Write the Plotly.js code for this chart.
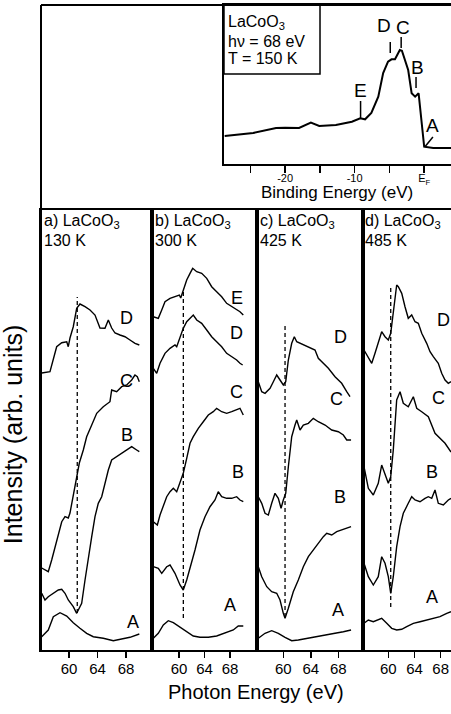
<!DOCTYPE html>
<html><head><meta charset="utf-8">
<script src="https://cdn.plot.ly/plotly-3.0.1.min.js"></script>
<style>html,body{margin:0;padding:0;background:#fff}#chart{width:451px;height:714px}</style>
</head><body><div id="chart"></div>
<script>
// ---------- Inset: valence band spectrum ----------
const insetBE = [-28.7,-24.6,-21.3,-20,-18,-16.3,-15.1,-12.7,-10.4,-9.2,-8.5,-7.6,-6.6,-5.9,-5.2,-4.7,-4.2,-3.5,-3.2,-2.3,-1.8,-1.3,-0.8,-0.35,0,1.3,3.9];
const insetI  = [28,31,36,36.3,36,41.3,38,39,42.3,45.7,44.7,51,67.3,91,102.3,104.7,104.7,114,113.3,94,70.7,67.3,70.7,37.3,17.3,16,16];
const insetTickVals = [-20,-10,0];
const insetTickText = ['-20','-10','E<sub>F</sub>'];
const insetMinorVals = [-25,-15,-5];

// ---------- Panel a) 130 K ----------
const aD_E = [56.17,57.33,58.27,58.98,59.68,59.90,60.14,60.60,61.08,61.54,62.25,62.95,63.65,64.35,65.05,65.52,65.99,66.46,67.16,67.86,68.56,69.27,69.87];
const aD_I = [277,278.3,303.3,307.3,308.3,303.3,312,323.3,341.7,346,343.3,340,335,322,321.7,330,322,317,315,313.3,310,306.7,305];
const aC_E = [56.17,57.09,57.57,58.03,58.50,58.98,59.44,59.90,60.14,60.60,60.98,61.45,62.01,62.48,63.19,63.89,64.81,65.75,65.99,66.69,67.40,68.10,68.80,69.26,69.59,69.87];
const aC_I = [82,78.3,90,103.3,117,128.3,133.3,132,137,153.3,167,187,200,213.3,225,236.7,243.3,248.3,260,258.3,263.3,265,270,275,273.3,268.3];
const aB_E = [56.17,56.63,57.09,57.80,58.50,58.98,59.44,59.90,60.60,61.08,61.45,61.78,62.25,62.71,63.19,63.65,64.11,64.59,65.05,65.52,65.99,66.69,67.40,68.10,68.80,69.50,69.87];
const aB_I = [56.7,50,53.3,56.7,60,60.7,56.7,50,43.3,36.7,41.7,46.7,70,93.3,113.3,133.3,146.7,153.3,166.7,180,190,193.3,196.7,200,203.3,200,198.3];
const aA_E = [56.17,57.09,57.80,58.74,59.68,60.60,61.54,62.48,63.41,64.81,66.22,67.40,68.56,69.87];
const aA_I = [13.3,20,33.3,37.3,34,27.3,21.7,16.7,13.3,11.7,9.3,10.7,12.7,16];

// ---------- Panel b) 300 K ----------
const bE_E = [55.97,56.75,57.29,57.80,58.59,59.37,60.05,60.27,60.67,61.21,61.73,62.15,62.78,63.56,64.35,65.13,65.91,66.70,67.48,68.27,69.05,69.57,70.09];
const bE_I = [333.3,331.7,340,348.3,351.7,353.3,355,352,360.7,370,376.7,381.7,378.3,376.7,371.7,363.3,358.3,353.3,346.7,343.3,340,338.3,335];
const bD_E = [55.97,56.50,57.02,57.80,58.59,59.37,59.64,60.16,60.67,61.21,61.73,62.24,62.78,63.56,64.35,65.13,65.91,66.70,67.48,68.27,69.05,69.57,69.99];
const bD_I = [281.7,276.7,286.7,296.7,301.7,305,303.3,313.3,321.7,328.3,331.7,335,330,326.7,320,313.3,308.3,303.3,296.7,293.3,290,286.7,285];
const bC_E = [55.97,56.60,57.02,57.54,58.07,58.59,59.11,59.64,60.16,60.67,61.21,61.73,62.24,63.03,63.81,64.60,65.38,65.91,66.70,67.48,68.27,69.05,69.57,70.09];
const bC_I = [128.3,125,135,143.3,153.3,158.3,161.7,158.3,166.7,176.7,191.7,206.7,213.3,221.7,228.3,235,238.3,241.7,238.3,236.7,238.3,240,241.7,235];
const bB_E = [55.97,56.75,57.29,58.07,58.59,59.37,60.16,60.67,61.21,61.73,62.51,63.29,64.08,64.86,65.65,66.16,66.70,67.48,68.27,69.05,69.57,70.09];
const bB_I = [83.3,81.7,76.7,83.3,85,76.7,65,60,70,81.7,100,120,133.3,143.3,150,158.3,153.3,151.7,151.7,153.3,150,148.3];
const bA_E = [55.97,56.75,57.54,58.32,59.11,59.89,60.67,61.46,62.24,63.29,64.60,65.91,67.22,68.52,69.30,70.09];
const bA_I = [11.7,16.7,25,29.3,27.3,24,20,17.3,14,12.7,12.7,14,16.7,20,24,24];

// ---------- Panel c) 425 K ----------
const cD_E = [56.36,56.86,57.34,58.07,58.55,59.04,59.52,60.00,60.35,60.73,61.22,61.60,61.95,62.68,63.64,64.61,65.09,65.82,66.55,67.52,68.49,69.22,69.70];
const cD_I = [268.3,258.3,256.7,261.7,268.3,275,270,265,268.3,290,306.7,313.3,308.3,306,303.3,300,291.7,286.7,281.7,273.3,266.7,258.3,253.3];
const cC_E = [56.36,56.86,57.34,57.82,58.31,58.79,59.27,59.67,60.00,60.35,60.73,61.22,61.70,61.95,62.43,62.91,63.64,64.36,65.09,66.07,67.04,68.00,68.73,69.22,69.85];
const cC_I = [153.3,146.7,136.7,135,146.7,156.7,151.7,141.7,150,156.7,183.3,213.3,225,230,220,225,226.7,231.7,228.3,225,220,218.3,215,210,210];
const cB_E = [56.36,56.86,57.59,58.31,59.04,59.52,60.00,60.25,60.73,61.45,62.18,62.91,63.64,64.36,65.09,65.82,66.31,67.04,67.77,68.49,69.22,69.85];
const cB_I = [83.3,73.3,63.3,58.3,56.7,50,36.7,31.7,41.7,58.3,70,83.3,93.3,100,106.7,113.3,116.7,115,118.3,120,121.7,123.3];
const cA_E = [56.36,57.34,58.31,59.27,60.25,61.22,62.18,63.40,64.61,66.07,67.52,68.73,69.85];
const cA_I = [11.7,16.7,19.3,16.7,12.7,9.3,10,11.7,13.3,15,16.7,18.3,20];

// ---------- Panel d) 485 K ----------
const dD_E = [56.29,56.95,57.47,57.97,58.47,58.99,59.50,60.00,60.37,60.76,61.28,61.53,62.05,62.55,63.05,63.57,64.08,64.58,65.10,65.86,66.37,66.87,67.63,68.15,68.66,69.16,69.57];
const dD_I = [300,293.3,286.7,296.7,306.7,318.3,313.3,310,316.7,340,365,363.3,356.7,343.3,331.7,335,328.3,326.7,316.7,306.7,298.3,293.3,286.7,276.7,270,266.7,268.3];
const dC_E = [56.29,56.95,57.71,58.47,58.99,59.50,60.00,60.37,60.76,61.28,61.79,62.29,63.05,63.82,64.34,65.10,66.11,67.13,67.89,68.66,69.57];
const dC_I = [183.3,161.7,155,166.7,185,175,166.7,173.3,200,250,258.3,246.7,243.3,253.3,241.7,238.3,233.3,216.7,211.7,206.7,198];
const dB_E = [56.29,56.95,57.71,58.47,58.99,59.50,60.00,60.37,60.76,61.28,61.79,62.29,63.05,63.57,64.08,64.84,65.60,66.11,66.63,67.13,67.63,68.40,69.16,69.57];
const dB_I = [86.7,73.3,65,73.3,93.3,86.7,73.3,56.7,73.3,103.3,123.3,136.7,146.7,153.3,150,148.3,151.7,153.3,151.7,160,146.7,145,150,151.7];
const dA_E = [56.29,56.95,57.71,58.47,58.99,59.76,60.52,61.28,62.05,62.81,63.82,64.84,65.86,66.87,67.89,68.92,69.57];
const dA_I = [26.7,30,28.3,30,31.7,26.7,21.7,20,20.7,23.3,26.7,28.3,30,31.7,33.3,36.7,38.3];

// absorption-edge energies (dashed lines)
const edgeE = [61.16, 60.68, 60.25, 60.37];
const panelNames = ['a) LaCoO<sub>3</sub>','b) LaCoO<sub>3</sub>','c) LaCoO<sub>3</sub>','d) LaCoO<sub>3</sub>'];
const panelTemps = ['130 K','300 K','425 K','485 K'];
const xTickVals = [60, 64, 68];

// ---------- build ----------
const FONT = 'Liberation Sans, Arial, Helvetica, sans-serif';
const panels = [
  {curves:[[aD_E,aD_I],[aC_E,aC_I],[aB_E,aB_I],[aA_E,aA_I]], range:[56.07,71.65], dom:[0,0.2707],
   labels:[['D',68.14,332],['C',68.14,269],['B',68.14,215],['A',68.98,28]], dash:[37,353]},
  {curves:[[bE_E,bE_I],[bD_E,bD_I],[bC_E,bC_I],[bB_E,bB_I],[bA_E,bA_I]], range:[55.76,72.24], dom:[0.2707,0.5268],
   labels:[['E',69.1,352],['D',69.1,317],['C',69.1,258],['B',69.25,178],['A',68.0,45]], dash:[32,358]},
  {curves:[[cD_E,cD_I],[cC_E,cC_I],[cB_E,cB_I],[cA_E,cA_I]], range:[56.17,71.59], dom:[0.5268,0.7854],
   labels:[['D',68.25,313],['C',67.67,251],['B',68.25,153],['A',67.96,40]], dash:[33,325]},
  {curves:[[dD_E,dD_I],[dC_E,dC_I],[dB_E,dB_I],[dA_E,dA_I]], range:[56.14,69.57], dom:[0.7854,1],
   labels:[['D',68.35,330],['C',67.59,252],['B',66.67,178],['A',66.67,53]], dash:[43,363]}
];

const traces = [];
const annotations = [];
const shapes = [];
const layout = {
  width:451, height:714, margin:{l:41,r:0,t:0,b:64},
  paper_bgcolor:'#fff', plot_bgcolor:'rgba(0,0,0,0)', showlegend:false,
  font:{family:FONT, color:'#000'}
};

panels.forEach((p,i)=>{
  const n = i+1, xs = n===1?'':String(n);
  const xa = 'x'+xs, ya = 'y'+xs;
  p.curves.forEach(c=>{
    traces.push({x:c[0], y:c[1], xaxis:xa, yaxis:ya, type:'scatter', mode:'lines',
      line:{color:'#000', width:1.4}, hoverinfo:'skip'});
  });
  layout['xaxis'+xs] = {domain:p.dom, range:p.range, anchor:ya, tickvals:xTickVals, ticks:'outside',
    ticklen:6, tickwidth:1.5, tickcolor:'#000', showline:true, linewidth:2, linecolor:'#000', mirror:true,
    showgrid:false, zeroline:false, tickfont:{size:15, family:FONT}, ticklabelstandoff:-2, fixedrange:true};
  layout['yaxis'+xs] = {domain:[0,0.6769], range:[0,440], anchor:xa, showticklabels:false, ticks:'',
    showline:true, linewidth:2, linecolor:'#000', mirror:true, showgrid:false, zeroline:false, fixedrange:true};
  shapes.push({type:'line', xref:xa, yref:ya, x0:edgeE[i], x1:edgeE[i], y0:p.dash[0], y1:p.dash[1],
    line:{color:'#000', width:1.3, dash:'4px,3px'}});
  p.labels.forEach(l=>{
    annotations.push({xref:xa, yref:ya, x:l[1], y:l[2], text:l[0], showarrow:false,
      font:{size:18, family:FONT}, xanchor:'center', yanchor:'middle'});
  });
  annotations.push({xref:xa+' domain', yref:ya+' domain', x:0.015, y:0.975, text:panelNames[i],
    showarrow:false, xanchor:'left', yanchor:'middle', font:{size:16, family:FONT}, borderpad:0});
  annotations.push({xref:xa+' domain', yref:ya+' domain', x:0.015, y:0.931, text:panelTemps[i],
    showarrow:false, xanchor:'left', yanchor:'middle', font:{size:16, family:FONT}, borderpad:0});
});

// inset
traces.push({x:insetBE, y:insetI, xaxis:'x5', yaxis:'y5', type:'scatter', mode:'lines',
  line:{color:'#000', width:2}, hoverinfo:'skip'});
layout.xaxis5 = {domain:[0.4463,1], range:[-28.8,3.86], anchor:'y5', tickvals:insetTickVals, ticktext:insetTickText,
  ticks:'outside', ticklen:7, tickwidth:1.5, tickcolor:'#000', showline:true, linewidth:2, linecolor:'#000', mirror:true,
  minor:{tickvals:insetMinorVals, ticks:'outside', ticklen:7, tickwidth:1.5, tickcolor:'#000', showgrid:false},
  showgrid:false, zeroline:false, tickfont:{size:11, family:FONT}, ticklabelstandoff:-4, fixedrange:true};
layout.yaxis5 = {domain:[0.7477,0.9923], range:[0,159], anchor:'x5', showticklabels:false, ticks:'',
  showline:true, linewidth:2, linecolor:'#000', mirror:true, showgrid:false, zeroline:false, fixedrange:true};
annotations.push({xref:'x5 domain', yref:'paper', x:0.5, y:0.7035, text:'Binding Energy (eV)', showarrow:false,
  xanchor:'center', yanchor:'middle', font:{size:17, family:FONT}, borderpad:0});

// inset text box
shapes.push({type:'rect', xref:'x5 domain', yref:'y5 domain', x0:0, x1:0.423, y0:0.566, y1:1,
  line:{color:'#000', width:1.5}, fillcolor:'rgba(0,0,0,0)'});
[['LaCoO<sub>3</sub>',0.888],['hν = 68 eV',0.772],['T = 150 K',0.665]].forEach(t=>{
  annotations.push({xref:'x5 domain', yref:'y5 domain', x:0.015, y:t[1], text:t[0], showarrow:false,
    xanchor:'left', yanchor:'middle', font:{size:16, family:FONT}, borderpad:0});
});
// inset peak labels and marks
[['D',-5.73,139],['C',-3.03,137],['B',-0.89,97],['E',-9.15,73],['A',1.25,38]].forEach(l=>{
  annotations.push({xref:'x5', yref:'y5', x:l[1], y:l[2], text:l[0], showarrow:false,
    font:{size:19, family:FONT}, xanchor:'center', yanchor:'middle'});
});
[[-4.88,111,-4.88,122],[-3.31,116,-3.31,127],[-1.17,76,-1.17,87],[-9.15,46,-9.15,63],[0.08,17,1.26,27]].forEach(s=>{
  shapes.push({type:'line', xref:'x5', yref:'y5', x0:s[0], y0:s[1], x1:s[2], y1:s[3], line:{color:'#000', width:1.5}});
});

// outer frame of the top region
shapes.push({type:'line', xref:'paper', yref:'paper', x0:0, x1:0, y0:0, y1:0.9923, line:{color:'#000', width:2}});
shapes.push({type:'line', xref:'paper', yref:'paper', x0:0, x1:1, y0:0.9923, y1:0.9923, line:{color:'#000', width:2}});

// axis titles
annotations.push({xref:'paper', yref:'paper', x:0.524, y:-0.0646, text:'Photon Energy (eV)', showarrow:false,
  xanchor:'center', yanchor:'middle', font:{size:20, family:FONT}});
annotations.push({xref:'paper', yref:'paper', x:-0.0683, y:0.332, text:'Intensity (arb. units)', showarrow:false,
  xanchor:'center', yanchor:'middle', textangle:-90, font:{size:25, family:FONT}});

layout.shapes = shapes;
layout.annotations = annotations;
Plotly.newPlot('chart', traces, layout, {staticPlot:true, displayModeBar:false});
</script></body></html>
